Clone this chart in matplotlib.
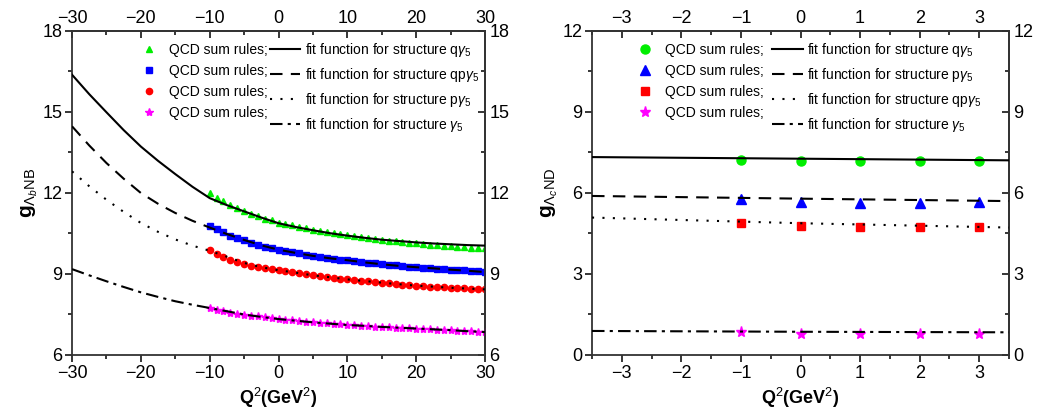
import matplotlib
matplotlib.use("Agg")
import matplotlib.pyplot as plt
from matplotlib.ticker import MultipleLocator
from matplotlib.lines import Line2D

plt.rcParams["font.family"] = ["Liberation Sans", "DejaVu Sans"]
plt.rcParams["mathtext.fontset"] = "custom"
plt.rcParams["mathtext.rm"] = "Liberation Sans"
plt.rcParams["mathtext.it"] = "Liberation Sans:italic"
plt.rcParams["mathtext.bf"] = "Liberation Sans:bold"

# ---- left panel: g_{Lambda_b N B} ----
q2_pts = list(range(-10, 31))
g_q5 = [12.00, 11.81, 11.69, 11.57, 11.44, 11.32, 11.22, 11.14, 11.05, 11.01,
        10.90, 10.85, 10.80, 10.74, 10.69, 10.64, 10.59, 10.54, 10.51, 10.47, 10.43,
        10.40, 10.36, 10.32, 10.30, 10.27, 10.23, 10.21, 10.19, 10.16, 10.14,
        10.11, 10.09, 10.06, 10.05, 10.03, 10.01, 10.00, 9.98, 9.96, 9.95]
g_qp5 = [10.79, 10.67, 10.54, 10.42, 10.33, 10.25, 10.16, 10.07, 10.01, 9.95,
         9.90, 9.85, 9.81, 9.77, 9.72, 9.67, 9.63, 9.60, 9.57, 9.53, 9.51,
         9.47, 9.44, 9.42, 9.40, 9.36, 9.33, 9.32, 9.30, 9.27, 9.25,
         9.23, 9.22, 9.20, 9.19, 9.16, 9.15, 9.14, 9.11, 9.10, 9.07]
g_p5 = [9.90, 9.74, 9.62, 9.52, 9.43, 9.37, 9.31, 9.26, 9.21, 9.17,
        9.14, 9.10, 9.06, 9.02, 8.99, 8.95, 8.91, 8.89, 8.85, 8.83, 8.80,
        8.78, 8.75, 8.73, 8.70, 8.68, 8.65, 8.63, 8.60, 8.58, 8.57,
        8.54, 8.53, 8.52, 8.51, 8.49, 8.48, 8.47, 8.46, 8.44, 8.43]
g_g5 = [7.74, 7.68, 7.62, 7.57, 7.53, 7.49, 7.46, 7.43, 7.40, 7.36,
        7.33, 7.31, 7.28, 7.26, 7.23, 7.21, 7.18, 7.17, 7.15, 7.14, 7.11,
        7.10, 7.09, 7.06, 7.05, 7.04, 7.03, 7.01, 7.00, 6.99, 6.98,
        6.96, 6.95, 6.94, 6.93, 6.91, 6.90, 6.89, 6.88, 6.86, 6.85]

q2_fit = [-30, -27.5, -25, -22.5, -20, -17.5, -15, -12.5, -10, -7.5, -5, -2.5,
          0, 2.5, 5, 7.5, 10, 12.5, 15, 17.5, 20, 22.5, 25, 27.5, 30]
fit_q5 = [16.38, 15.66, 14.99, 14.33, 13.72, 13.19, 12.70, 12.23, 11.81, 11.55, 11.32, 11.09,
          10.88, 10.74, 10.62, 10.51, 10.42, 10.34, 10.27, 10.22, 10.17, 10.13, 10.10, 10.07, 10.05]
fit_qp5 = [14.47, 13.76, 13.11, 12.53, 12.00, 11.60, 11.26, 10.97, 10.72, 10.48, 10.26, 10.06,
           9.90, 9.78, 9.67, 9.58, 9.51, 9.43, 9.36, 9.30, 9.25, 9.21, 9.16, 9.12, 9.07]
fit_p5 = [12.80, 12.25, 11.75, 11.30, 10.89, 10.56, 10.28, 10.05, 9.86, 9.64, 9.41, 9.25,
          9.14, 9.05, 8.95, 8.88, 8.80, 8.74, 8.68, 8.62, 8.57, 8.53, 8.49, 8.46, 8.43]
fit_g5 = [9.18, 8.95, 8.73, 8.52, 8.32, 8.15, 7.99, 7.86, 7.74, 7.62, 7.50, 7.41,
          7.33, 7.27, 7.21, 7.16, 7.11, 7.08, 7.04, 7.01, 6.98, 6.95, 6.92, 6.88, 6.85]

# ---- right panel: g_{Lambda_c N D} ----
q2_r = [-1, 0, 1, 2, 3]
r_q5 = [7.22, 7.19, 7.19, 7.19, 7.19]
r_p5 = [5.78, 5.65, 5.64, 5.62, 5.65]
r_qp5 = [4.88, 4.78, 4.75, 4.73, 4.73]
r_g5 = [0.84, 0.78, 0.77, 0.77, 0.79]

q2_rfit = [-3.5, 0, 3.5]
rfit_q5 = [7.33, 7.27, 7.21]
rfit_p5 = [5.89, 5.79, 5.70]
rfit_qp5 = [5.09, 4.88, 4.72]
rfit_g5 = [0.89, 0.86, 0.84]

GREEN, BLUE, RED, MAGENTA = "#00ee00", "#0000ff", "#ff0000", "#ff00ff"
DASH = (0, (6, 4))
DOT = (0, (1, 4))
DASHDOT = (0, (6, 2.5, 1.5, 2.5))


def style_axes(ax, xmaj, xmin, ymaj, ymin):
    ax.xaxis.set_major_locator(MultipleLocator(xmaj))
    ax.xaxis.set_minor_locator(MultipleLocator(xmin))
    ax.yaxis.set_major_locator(MultipleLocator(ymaj))
    ax.yaxis.set_minor_locator(MultipleLocator(ymin))
    ax.tick_params(which="major", direction="out", length=5, width=1.1, labelsize=13, pad=2)
    ax.tick_params(which="minor", direction="out", length=3, width=1.1)
    for s in ax.spines.values():
        s.set_linewidth(1.3)
        s.set_color("#333333")
    top = ax.secondary_xaxis("top")
    right = ax.secondary_yaxis("right")
    for sec, axis in ((top, "x"), (right, "y")):
        loc = getattr(sec, axis + "axis")
        loc.set_major_locator(MultipleLocator(xmaj if axis == "x" else ymaj))
        loc.set_minor_locator(MultipleLocator(xmin if axis == "x" else ymin))
        sec.tick_params(which="major", direction="in", length=5, width=1.1, labelsize=13, pad=3)
        sec.tick_params(which="minor", direction="in", length=3, width=1.1)
        sp = sec.spines["top" if axis == "x" else "right"]
        sp.set_linewidth(1.3)
        sp.set_color("#333333")


fig = plt.figure(figsize=(10.41, 4.2), dpi=100)
ax1 = fig.add_axes([0.0692, 0.1548, 0.3967, 0.7714])
ax2 = fig.add_axes([0.5687, 0.1548, 0.4006, 0.7714])

fit_labels = {
    "q": r"fit function for structure q$\gamma_5$",
    "qp": r"fit function for structure qp$\gamma_5$",
    "p": r"fit function for structure p$\gamma_5$",
    "g": r"fit function for structure $\gamma_5$",
}
line_handles = [
    Line2D([], [], color="k", lw=1.5, ls="-"),
    Line2D([], [], color="k", lw=1.5, ls=DASH),
    Line2D([], [], color="k", lw=1.5, ls=DOT),
    Line2D([], [], color="k", lw=1.5, ls=DASHDOT),
]

# left
ms = 4.5
ax1.plot(q2_pts, g_q5, "^", color=GREEN, ms=ms, zorder=2)
ax1.plot(q2_pts, g_qp5, "s", color=BLUE, ms=ms - 0.5, zorder=2)
ax1.plot(q2_pts, g_p5, "o", color=RED, ms=ms, zorder=2)
ax1.plot(q2_pts, g_g5, "*", color=MAGENTA, ms=ms + 1.5, zorder=2)
ax1.plot(q2_fit, fit_q5, color="k", lw=1.5, ls="-", zorder=3)
ax1.plot(q2_fit, fit_qp5, color="k", lw=1.5, ls=DASH, zorder=3)
ax1.plot(q2_fit, fit_p5, color="k", lw=1.5, ls=DOT, zorder=3)
ax1.plot(q2_fit, fit_g5, color="k", lw=1.5, ls=DASHDOT, zorder=3)
ax1.set_xlim(-30, 30)
ax1.set_ylim(6, 18)
style_axes(ax1, 10, 5, 3, 1.5)
ax1.set_xlabel(r"Q$^2$(GeV$^2$)", fontsize=13, fontweight="bold", labelpad=3)
ax1.set_ylabel(r"g$_{\Lambda_b\mathrm{NB}}$", fontsize=15, fontweight="bold", labelpad=2)

left_handles = [
    Line2D([], [], ls="none", marker="^", color=GREEN, ms=ms),
    Line2D([], [], ls="none", marker="s", color=BLUE, ms=ms - 0.5),
    Line2D([], [], ls="none", marker="o", color=RED, ms=ms),
    Line2D([], [], ls="none", marker="*", color=MAGENTA, ms=ms + 1.5),
] + line_handles
left_labels = ["QCD sum rules;"] * 4 + [fit_labels["q"], fit_labels["qp"],
                                        fit_labels["p"], fit_labels["g"]]
ax1.legend(left_handles, left_labels, ncol=2, frameon=False, fontsize=10,
           loc="upper left", bbox_to_anchor=(0.13, 0.995), handlelength=2.2,
           handletextpad=0.35, columnspacing=0.1, labelspacing=0.5, borderaxespad=0.2)

# right
ms2 = 6.5
ax2.plot(q2_r, r_q5, "o", color=GREEN, ms=ms2, zorder=2)
ax2.plot(q2_r, r_p5, "^", color=BLUE, ms=ms2, zorder=2)
ax2.plot(q2_r, r_qp5, "s", color=RED, ms=ms2 - 0.5, zorder=2)
ax2.plot(q2_r, r_g5, "*", color=MAGENTA, ms=ms2 + 1.5, zorder=2)
ax2.plot(q2_rfit, rfit_q5, color="k", lw=1.5, ls="-", zorder=3)
ax2.plot(q2_rfit, rfit_p5, color="k", lw=1.5, ls=DASH, zorder=3)
ax2.plot(q2_rfit, rfit_qp5, color="k", lw=1.5, ls=DOT, zorder=3)
ax2.plot(q2_rfit, rfit_g5, color="k", lw=1.5, ls=DASHDOT, zorder=3)
ax2.set_xlim(-3.5, 3.5)
ax2.set_ylim(0, 12)
style_axes(ax2, 1, 0.5, 3, 1.5)
ax2.set_xlabel(r"Q$^2$(GeV$^2$)", fontsize=13, fontweight="bold", labelpad=3)
ax2.set_ylabel(r"g$_{\Lambda_c\mathrm{ND}}$", fontsize=15, fontweight="bold", labelpad=2)

right_handles = [
    Line2D([], [], ls="none", marker="o", color=GREEN, ms=ms2),
    Line2D([], [], ls="none", marker="^", color=BLUE, ms=ms2),
    Line2D([], [], ls="none", marker="s", color=RED, ms=ms2 - 0.5),
    Line2D([], [], ls="none", marker="*", color=MAGENTA, ms=ms2 + 1.5),
] + line_handles
right_labels = ["QCD sum rules;"] * 4 + [fit_labels["q"], fit_labels["p"],
                                         fit_labels["qp"], fit_labels["g"]]
ax2.legend(right_handles, right_labels, ncol=2, frameon=False, fontsize=10,
           loc="upper left", bbox_to_anchor=(0.07, 0.995), handlelength=2.2,
           handletextpad=0.35, columnspacing=0.6, labelspacing=0.5, borderaxespad=0.2)

fig.savefig("out.png", dpi=100)
